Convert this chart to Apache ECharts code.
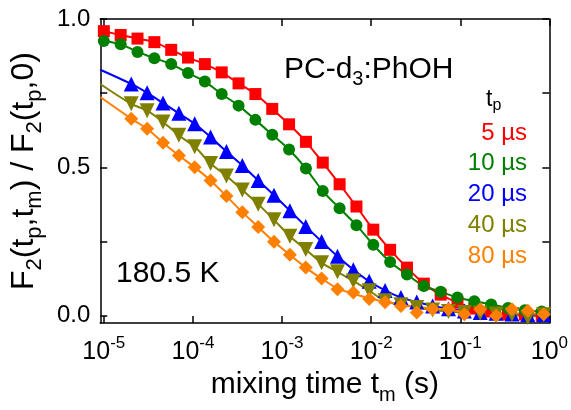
<!DOCTYPE html>
<html>
<head>
<meta charset="utf-8">
<script src="https://cdn.jsdelivr.net/npm/echarts@6/dist/echarts.min.js"></script>
<style>
html,body{margin:0;padding:0;background:#fff;}
#chart{width:571px;height:410px;}
</style>
</head>
<body>
<div id="chart"></div>
<script>
// mixing times (s) for 5 us and 10 us data
const tmA = [1.00e-5, 1.545e-5, 2.388e-5, 3.690e-5, 5.702e-5, 8.810e-5, 1.361e-4, 2.104e-4, 3.251e-4, 5.023e-4,
  7.762e-4, 1.199e-3, 1.854e-3, 2.864e-3, 4.426e-3, 6.839e-3, 1.057e-2, 1.633e-2, 2.523e-2, 3.899e-2,
  6.026e-2, 9.311e-2, 0.1439, 0.2223, 0.3436, 0.5309, 0.8204];
// mixing times (s) for 20, 40, 80 us data
const tmB = [2.032e-5, 3.062e-5, 4.613e-5, 6.950e-5, 1.047e-4, 1.578e-4, 2.377e-4, 3.581e-4, 5.395e-4, 8.128e-4,
  1.225e-3, 1.845e-3, 2.780e-3, 4.188e-3, 6.310e-3, 9.506e-3, 1.432e-2, 2.158e-2, 3.251e-2, 4.898e-2,
  7.379e-2, 0.1112, 0.1675, 0.2523, 0.3802, 0.5728, 0.8630];

const red5 = [0.959, 0.946, 0.934, 0.922, 0.896, 0.870, 0.848, 0.820, 0.783, 0.747,
  0.697, 0.645, 0.586, 0.516, 0.443, 0.368, 0.290, 0.222, 0.162, 0.108,
  0.071, 0.044, 0.024, 0.014, 0.004, 0.004, 0.001];
const green10 = [0.926, 0.915, 0.889, 0.868, 0.848, 0.818, 0.789, 0.747, 0.708, 0.660,
  0.610, 0.560, 0.496, 0.420, 0.362, 0.305, 0.239, 0.181, 0.139, 0.100,
  0.081, 0.061, 0.049, 0.038, 0.026, 0.018, 0.014];
const blue20 = [0.781, 0.751, 0.717, 0.682, 0.647, 0.602, 0.553, 0.506, 0.456, 0.406,
  0.354, 0.301, 0.250, 0.200, 0.155, 0.116, 0.085, 0.061, 0.046, 0.033,
  0.023, 0.016, 0.011, 0.008, 0.006, 0.004, 0.003];
const olive40 = [0.714, 0.691, 0.653, 0.608, 0.569, 0.513, 0.471, 0.424, 0.376, 0.323,
  0.268, 0.223, 0.178, 0.148, 0.117, 0.084, 0.050, 0.037, 0.028, 0.019,
  0.014, 0.011, 0.008, 0.006, 0.004, -0.006, 0.003];
const orange80 = [0.664, 0.630, 0.583, 0.540, 0.500, 0.456, 0.403, 0.349, 0.299, 0.249,
  0.205, 0.162, 0.125, 0.089, 0.078, 0.056, 0.045, 0.033, 0.011, 0.022,
  0.022, 0.005, 0.022, 0.000, 0.022, 0.017, 0.005];
// fit curve for 80 us (smooth tail differs from scattered points)
const orangeFit = [0.664, 0.630, 0.583, 0.540, 0.500, 0.456, 0.403, 0.349, 0.299, 0.249,
  0.205, 0.162, 0.125, 0.092, 0.074, 0.059, 0.047, 0.037, 0.030, 0.024,
  0.019, 0.015, 0.012, 0.010, 0.008, 0.007, 0.006];
// fit curve values at the left (x min) and right (x = 1) frame edges
const fitStartY = [null, null, 0.829, 0.781, 0.737];
const fitEndY = [0.001, 0.012, 0.003, 0.002, 0.005];

const labels = ['5 µs', '10 µs', '20 µs', '40 µs', '80 µs'];
const colors = ['#ff0000', '#008000', '#0000ff', '#808000', '#ff8000'];
const symbols = ['rect', 'circle', 'triangle', 'triangle', 'diamond'];
const symbolSizes = [12, 12, 15, 15, 14];
const symbolRotates = [0, 0, 0, 180, 0];
const xTicks = [1e-5, 1e-4, 1e-3, 1e-2, 1e-1, 1];
const yTicks = [0, 0.25, 0.5, 0.75, 1.0];
const yLabels = [0, 0.5, 1.0];
const X_MIN = 9.12e-6, X_MAX = 1, Y_MIN = -0.025, Y_MAX = 1.0;

const FONT = "'Liberation Sans', Arial, sans-serif";
const pts = [[tmA, red5], [tmA, green10], [tmB, blue20], [tmB, olive40], [tmB, orange80]];
const fits = [[tmA, red5], [tmA, green10], [tmB, blue20], [tmB, olive40], [tmB, orangeFit]];

const series = [];
fits.forEach((f, i) => {
  const d = [];
  if (fitStartY[i] !== null) d.push([X_MIN, fitStartY[i]]);
  f[0].forEach((x, k) => d.push([x, f[1][k]]));
  d.push([X_MAX, fitEndY[i]]);
  series.push({
    type: 'line', name: labels[i] + ' fit', data: d, smooth: 0.3, symbol: 'none',
    lineStyle: {color: colors[i], width: 2}, z: 2, silent: true
  });
});
pts.forEach((p, i) => {
  series.push({
    type: 'scatter', name: labels[i],
    data: p[0].map((x, k) => [x, p[1][k]]),
    symbol: symbols[i], symbolSize: symbolSizes[i], symbolRotate: symbolRotates[i],
    itemStyle: {color: colors[i], opacity: 1}, z: 3 + i
  });
});

const axisLine = {show: true, onZero: false, lineStyle: {color: '#000', width: 1.5}};
const chart = echarts.init(document.getElementById('chart'), null, {renderer: 'canvas'});
chart.setOption({
  animation: false,
  backgroundColor: '#fff',
  grid: {left: 95, right: 18, top: 19, bottom: 85},
  xAxis: [{
    type: 'log', logBase: 10, min: X_MIN, max: X_MAX, position: 'bottom',
    axisLine: axisLine,
    axisTick: {show: true, inside: true, length: 7, customValues: xTicks, lineStyle: {color: '#000', width: 1.5}},
    minorTick: {show: false},
    splitLine: {show: false},
    axisLabel: {
      customValues: xTicks, margin: 12, fontFamily: FONT,
      formatter: v => '{b|10}{s|' + Math.round(Math.log10(v)) + '}',
      rich: {
        b: {fontSize: 25, fontFamily: FONT, color: '#000', lineHeight: 30, verticalAlign: 'bottom'},
        s: {fontSize: 17, fontFamily: FONT, color: '#000', lineHeight: 20, verticalAlign: 'top'}
      }
    },
    name: '{a|mixing time t}{s|m}{a| (s)}',
    nameLocation: 'middle', nameGap: 43,
    nameTextStyle: {
      rich: {
        a: {fontSize: 30, fontFamily: FONT, color: '#000', lineHeight: 35, verticalAlign: 'top'},
        s: {fontSize: 20, fontFamily: FONT, color: '#000', lineHeight: 22, verticalAlign: 'bottom'}
      }
    }
  }, {
    type: 'log', logBase: 10, min: X_MIN, max: X_MAX, position: 'top',
    axisLine: axisLine,
    axisTick: {show: true, inside: true, length: 7, customValues: xTicks, lineStyle: {color: '#000', width: 1.5}},
    axisLabel: {show: false}, splitLine: {show: false}
  }],
  yAxis: [{
    type: 'value', min: Y_MIN, max: Y_MAX, position: 'left',
    axisLine: axisLine,
    axisTick: {show: true, inside: true, length: 7, customValues: yTicks, lineStyle: {color: '#000', width: 1.5}},
    splitLine: {show: false},
    axisLabel: {
      customValues: yLabels, margin: 10, fontSize: 24, fontFamily: FONT, color: '#000',
      formatter: v => v.toFixed(1)
    },
    name: '{a|F}{s|2}{a|(t}{s|p}{a|,t}{s|m}{a|) / F}{s|2}{a|(t}{s|p}{a|,0)}',
    nameLocation: 'middle', nameGap: 48, nameRotate: 90,
    nameTextStyle: {
      rich: {
        a: {fontSize: 32, fontFamily: FONT, color: '#000', lineHeight: 38, verticalAlign: 'top'},
        s: {fontSize: 22, fontFamily: FONT, color: '#000', lineHeight: 25, verticalAlign: 'bottom'}
      }
    }
  }, {
    type: 'value', min: Y_MIN, max: Y_MAX, position: 'right',
    axisLine: axisLine,
    axisTick: {show: true, inside: true, length: 7, customValues: yTicks, lineStyle: {color: '#000', width: 1.5}},
    axisLabel: {show: false}, splitLine: {show: false}
  }],
  series: series,
  graphic: [
    {type: 'text', left: 284, top: 55, z: 10, style: {
      text: '{a|PC-d}{s|3}{a|:PhOH}',
      rich: {
        a: {fontSize: 30, fontFamily: FONT, fill: '#000', lineHeight: 34, verticalAlign: 'top'},
        s: {fontSize: 20, fontFamily: FONT, fill: '#000', lineHeight: 22, verticalAlign: 'bottom'}
      }}},
    {type: 'text', left: 486, top: 88, z: 10, style: {
      text: '{a|t}{s|p}',
      rich: {
        a: {fontSize: 23, fontFamily: FONT, fill: '#000', lineHeight: 26, verticalAlign: 'top'},
        s: {fontSize: 16, fontFamily: FONT, fill: '#000', lineHeight: 18, verticalAlign: 'bottom'}
      }}},
    {type: 'text', left: 116, top: 259, z: 10, style: {
      text: '180.5 K', fontSize: 30, fontFamily: FONT, fill: '#000'}}
  ].concat(labels.map((t, i) => ({
    type: 'text', z: 10, x: 527, y: 133 + i * 30.8,
    style: {text: t, fontSize: 24, fontFamily: FONT, fill: colors[i], align: 'right', verticalAlign: 'middle'}
  })))
});
</script>
</body>
</html>
